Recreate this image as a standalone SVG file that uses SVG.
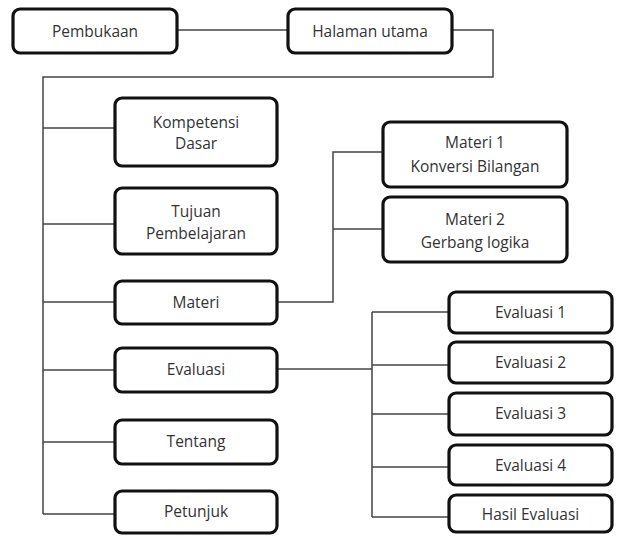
<svg xmlns="http://www.w3.org/2000/svg" width="620" height="536" viewBox="0 0 620 536">
<style>
.box{fill:#fff;stroke:#111;stroke-width:3.2;}
.t{font-family:"Open Sans","Noto Sans",sans-serif;font-size:15.5px;fill:#333;text-anchor:middle;}
.c{fill:none;stroke:#444;stroke-width:1.5;}
</style>
<rect width="620" height="536" fill="#fff"/>
<g id="connectors">
<path class="c" d="M177 30H288"/>
<path class="c" d="M452 30H493V77H43V514"/>
<path class="c" d="M43 128H115M43 224H115M43 302H115M43 370H115M43 442H115M43 514H115"/>
<path class="c" d="M277 302H333V152H383M333 229H383"/>
<path class="c" d="M277 369H372M372 312V517M372 312H449M372 365H449M372 414H449M372 467H449M372 517H449"/>
</g>
<g id="pembukaan"><rect class="box" x="13" y="9" width="164" height="44" rx="7"/><text class="t" x="95" y="36.5">Pembukaan</text></g>
<g id="halaman"><rect class="box" x="288" y="9" width="164" height="44" rx="7"/><text class="t" x="370" y="36.5">Halaman utama</text></g>
<g id="kompetensi"><rect class="box" x="115" y="98" width="162" height="68" rx="7"/><text class="t" x="196" y="128">Kompetensi</text><text class="t" x="196" y="149">Dasar</text></g>
<g id="tujuan"><rect class="box" x="115" y="188" width="162" height="66" rx="7"/><text class="t" x="196" y="217">Tujuan</text><text class="t" x="196" y="239">Pembelajaran</text></g>
<g id="materi"><rect class="box" x="115" y="281" width="162" height="43" rx="7"/><text class="t" x="196" y="308">Materi</text></g>
<g id="evaluasi"><rect class="box" x="115" y="348" width="162" height="44" rx="7"/><text class="t" x="196" y="375">Evaluasi</text></g>
<g id="tentang"><rect class="box" x="115" y="420" width="162" height="44" rx="7"/><text class="t" x="196" y="447">Tentang</text></g>
<g id="petunjuk"><rect class="box" x="115" y="491" width="162" height="42" rx="7"/><text class="t" x="196" y="517">Petunjuk</text></g>
<g id="materi1"><rect class="box" x="383" y="122" width="184" height="65" rx="7"/><text class="t" x="475" y="148">Materi 1</text><text class="t" x="475" y="172">Konversi Bilangan</text></g>
<g id="materi2"><rect class="box" x="383" y="197" width="184" height="65" rx="7"/><text class="t" x="475" y="225">Materi 2</text><text class="t" x="475" y="248">Gerbang logika</text></g>
<g id="evaluasi1"><rect class="box" x="449" y="292" width="163" height="41" rx="7"/><text class="t" x="530.5" y="318">Evaluasi 1</text></g>
<g id="evaluasi2"><rect class="box" x="449" y="342" width="163" height="41" rx="7"/><text class="t" x="530.5" y="368">Evaluasi 2</text></g>
<g id="evaluasi3"><rect class="box" x="449" y="393" width="163" height="42" rx="7"/><text class="t" x="530.5" y="419">Evaluasi 3</text></g>
<g id="evaluasi4"><rect class="box" x="449" y="445" width="163" height="40" rx="7"/><text class="t" x="530.5" y="471">Evaluasi 4</text></g>
<g id="hasil"><rect class="box" x="449" y="495" width="163" height="37" rx="7"/><text class="t" x="530.5" y="520">Hasil Evaluasi</text></g>
</svg>
